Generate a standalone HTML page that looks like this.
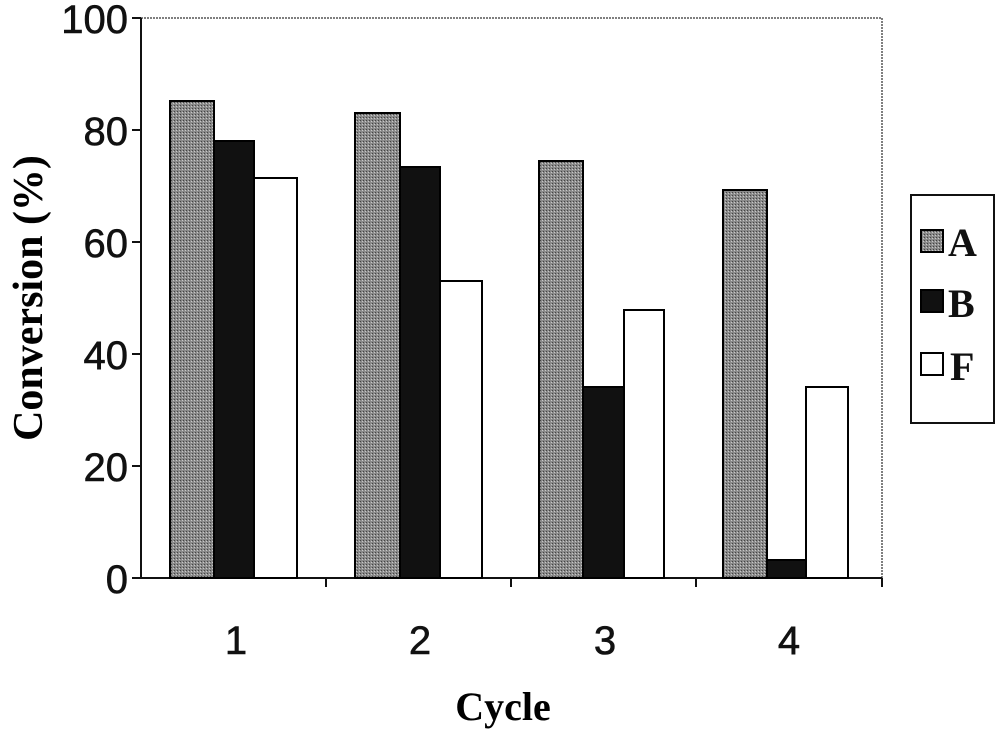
<!DOCTYPE html>
<html><head><meta charset="utf-8"><style>body{margin:0;background:#fff}</style></head>
<body>
<svg width="1000" height="734" viewBox="0 0 1000 734" xmlns="http://www.w3.org/2000/svg">
<defs>
<pattern id="g" width="3" height="3" patternUnits="userSpaceOnUse">
<rect width="3" height="3" fill="#8a8a8a"/><rect width="1" height="1" fill="#444"/><rect x="2" y="1" width="1" height="1" fill="#c8c8c8"/>
</pattern>
</defs>
<rect x="141" y="18" width="741" height="560" fill="none" stroke="#555" stroke-width="1.5" stroke-dasharray="2,1"/>
<g stroke="#111" stroke-width="2">
<line x1="141" y1="18" x2="141" y2="578"/>
<line x1="141" y1="578" x2="882" y2="578"/>
<line x1="132" y1="18" x2="141" y2="18"/>
<line x1="132" y1="130" x2="141" y2="130"/>
<line x1="132" y1="242" x2="141" y2="242"/>
<line x1="132" y1="354" x2="141" y2="354"/>
<line x1="132" y1="466" x2="141" y2="466"/>
<line x1="132" y1="578" x2="141" y2="578"/>
<line x1="326" y1="578" x2="326" y2="587"/>
<line x1="511" y1="578" x2="511" y2="587"/>
<line x1="696" y1="578" x2="696" y2="587"/>
<line x1="882" y1="578" x2="882" y2="587"/>
</g>
<g stroke="#000" stroke-width="2">
<rect x="170" y="101" width="44" height="477" fill="url(#g)"/>
<rect x="214" y="141" width="40" height="437" fill="#111"/>
<rect x="254" y="178" width="43" height="400" fill="#fff"/>
<rect x="355" y="113" width="45" height="465" fill="url(#g)"/>
<rect x="400" y="167" width="40" height="411" fill="#111"/>
<rect x="440" y="281" width="42" height="297" fill="#fff"/>
<rect x="539" y="161" width="44" height="417" fill="url(#g)"/>
<rect x="583" y="387" width="41" height="191" fill="#111"/>
<rect x="624" y="310" width="40" height="268" fill="#fff"/>
<rect x="723" y="190" width="44" height="388" fill="url(#g)"/>
<rect x="767" y="560" width="39" height="18" fill="#111"/>
<rect x="806" y="387" width="42" height="191" fill="#fff"/>
</g>
<g font-family="Liberation Sans, sans-serif" font-size="40" fill="#111" text-anchor="end" stroke="#111" stroke-width="0.6">
<text x="128" y="33">100</text>
<text x="128" y="145">80</text>
<text x="128" y="257">60</text>
<text x="128" y="369">40</text>
<text x="128" y="481">20</text>
<text x="128" y="593">0</text>
</g>
<g font-family="Liberation Sans, sans-serif" font-size="40" fill="#111" text-anchor="middle" stroke="#111" stroke-width="0.6">
<text x="236" y="654">1</text>
<text x="420" y="654">2</text>
<text x="605" y="654">3</text>
<text x="789" y="654">4</text>
</g>
<text x="503" y="720" font-family="Liberation Serif, serif" font-weight="bold" font-size="40" text-anchor="middle">Cycle</text>
<text transform="translate(42,298) rotate(-90)" font-family="Liberation Serif, serif" font-weight="bold" font-size="42" text-anchor="middle">Conversion (%)</text>
<rect x="911" y="195" width="83" height="228" fill="#fff" stroke="#111" stroke-width="2"/>
<g stroke="#000" stroke-width="2">
<rect x="921" y="230" width="22" height="22" fill="url(#g)"/>
<rect x="921" y="290" width="22" height="22" fill="#111"/>
<rect x="921" y="353" width="22" height="22" fill="#fff"/>
</g>
<g font-family="Liberation Serif, serif" font-weight="bold" font-size="40" fill="#111">
<text x="948" y="256">A</text>
<text x="948" y="317">B</text>
<text x="950" y="380">F</text>
</g>
</svg>
</body></html>
